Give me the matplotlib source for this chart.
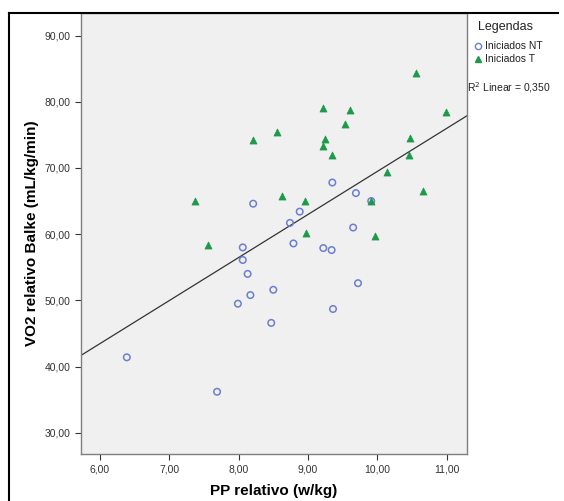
import numpy as np
import matplotlib
matplotlib.use('Agg')
import matplotlib.pyplot as plt
from matplotlib.lines import Line2D

plt.rcParams['font.family'] = ['Liberation Sans', 'DejaVu Sans']

# Iniciados NT (circles)
nt_pp = [6.39, 7.69, 7.99, 8.06, 8.06, 8.13, 8.17, 8.21, 8.47, 8.50, 8.74,
         8.79, 8.88, 9.22, 9.34, 9.35, 9.36, 9.65, 9.69, 9.72, 9.91]
nt_vo2 = [41.4, 36.2, 49.5, 58.0, 56.1, 54.0, 50.8, 64.6, 46.6, 51.6, 61.7,
          58.6, 63.4, 57.9, 57.6, 67.8, 48.7, 61.0, 66.2, 52.6, 65.0]

# Iniciados T (triangles)
t_pp = [7.37, 7.56, 8.21, 8.55, 8.62, 8.96, 8.97, 9.21, 9.22, 9.24, 9.35,
        9.53, 9.60, 9.91, 9.96, 10.14, 10.45, 10.47, 10.55, 10.66, 10.99]
t_vo2 = [65.0, 58.4, 74.2, 75.5, 65.7, 65.0, 60.2, 73.3, 79.1, 74.4, 71.9,
         76.6, 78.7, 65.0, 59.7, 69.4, 71.9, 74.5, 84.3, 66.5, 78.4]

xticks = [6, 7, 8, 9, 10, 11]
yticks = [30, 40, 50, 60, 70, 80, 90]

fig = plt.figure(figsize=(5.64, 5.01), dpi=100)
ax = fig.add_axes([81/564, 47/501, 386/564, 441/501])
ax.set_facecolor('#f0f0f0')

# fit line over all points
all_x = np.array(nt_pp + t_pp)
all_y = np.array(nt_vo2 + t_vo2)
slope, intercept = np.polyfit(all_x, all_y, 1)
xl = np.array([5.73, 11.29])
ax.plot(xl, intercept + slope * xl, color='#333333', lw=0.9, zorder=2)

ax.scatter(nt_pp, nt_vo2, marker='o', s=22, facecolors='none',
           edgecolors='#6b7fd0', linewidths=1.1, zorder=3)
ax.scatter(t_pp, t_vo2, marker='^', s=26, color='#1c9a4a',
           edgecolors='#1c9a4a', linewidths=0.5, zorder=3)

ax.set_xlim(5.73, 11.29)
ax.set_ylim(26.8, 93.4)
ax.set_xticks(xticks)
ax.set_yticks(yticks)
ax.set_xticklabels(['{:.2f}'.format(v).replace('.', ',') for v in xticks])
ax.set_yticklabels(['{:.2f}'.format(v).replace('.', ',') for v in yticks])
ax.tick_params(labelsize=7.5, colors='#333333', length=4, width=0.8, direction='out')
for s in ax.spines.values():
    s.set_color('#7f7f7f')
    s.set_linewidth(1.0)

ax.set_xlabel('PP relativo (w/kg)', fontsize=11, fontweight='bold', labelpad=7)
ax.set_ylabel('VO2 relativo Balke (mL/kg/min)', fontsize=11, fontweight='bold', labelpad=4)

# legend area at right
fig.text(478/564, 1 - 27/501, 'Legendas', fontsize=9, va='center', color='#222222')
fig.lines.append(Line2D([478/564], [1 - 46/501], marker='o', markersize=4.5,
                        markerfacecolor='none', markeredgecolor='#6b7fd0',
                        markeredgewidth=1.0, transform=fig.transFigure))
fig.lines.append(Line2D([478/564], [1 - 59/501], marker='^', markersize=5,
                        color='#1c9a4a', transform=fig.transFigure))
fig.text(485/564, 1 - 46/501, 'Iniciados NT', fontsize=7.5, va='center', color='#222222')
fig.text(485/564, 1 - 59/501, 'Iniciados T', fontsize=7.5, va='center', color='#222222')
fig.text(467/564, 1 - 88/501, r'R$^2$ Linear = 0,350', fontsize=7.5, va='center', color='#222222')

# outer frame lines
fig.lines.append(Line2D([8.5/564, 8.5/564], [0, 1 - 12.5/501], color='black', lw=1.5,
                        transform=fig.transFigure))
fig.lines.append(Line2D([8.5/564, 558/564], [1 - 12.5/501, 1 - 12.5/501], color='black', lw=1.5,
                        transform=fig.transFigure))

fig.savefig('out.png', dpi=100)
